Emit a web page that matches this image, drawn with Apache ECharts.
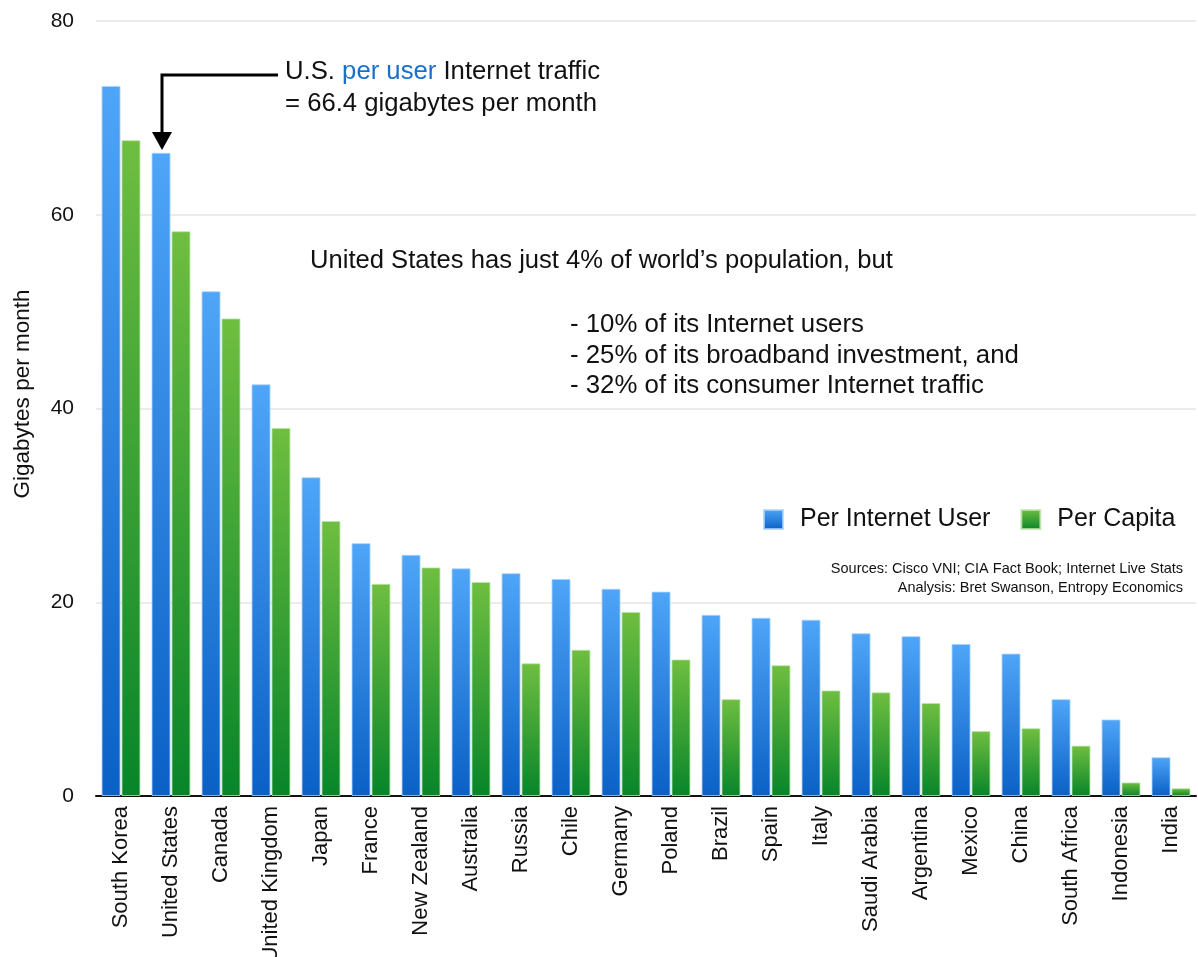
<!DOCTYPE html>
<html>
<head>
<meta charset="utf-8">
<script src="https://cdn.jsdelivr.net/npm/echarts@6/dist/echarts.min.js"></script>
<style>
  html, body { margin: 0; padding: 0; background: #fff; }
  #chart { width: 1198px; height: 957px; }
</style>
</head>
<body>
<div id="chart"></div>
<script>
var countries = ['South Korea', 'United States', 'Canada', 'United Kingdom', 'Japan', 'France',
  'New Zealand', 'Australia', 'Russia', 'Chile', 'Germany', 'Poland', 'Brazil', 'Spain', 'Italy',
  'Saudi Arabia', 'Argentina', 'Mexico', 'China', 'South Africa', 'Indonesia', 'India']
var perUser = [73.3, 66.4, 52.1, 42.5, 32.9, 26.1, 24.9, 23.5, 23.0, 22.4, 21.4, 21.1, 18.7, 18.4,
  18.2, 16.8, 16.5, 15.7, 14.7, 10.0, 7.9, 4.0]
var perCapita = [67.7, 58.3, 49.3, 38.0, 28.4, 21.9, 23.6, 22.1, 13.7, 15.1, 19.0, 14.1, 10.0, 13.5,
  10.9, 10.7, 9.6, 6.7, 7.0, 5.2, 1.4, 0.8]
var yTicks = [0, 20, 40, 60, 80]

var font = '"Liberation Sans", Arial, Helvetica, sans-serif'
var myChart = echarts.init(document.getElementById('chart'))

// 上浅下深的渐变
var blueFill = new echarts.graphic.LinearGradient(0, 0, 0, 1, [
  { offset: 0, color: '#4fa5f7' },
  { offset: 1, color: '#0a60c5' }
])
var greenFill = new echarts.graphic.LinearGradient(0, 0, 0, 1, [
  { offset: 0, color: '#6fbe40' },
  { offset: 1, color: '#07852a' }
])

myChart.setOption({
  animation: false,
  grid: { left: 96, right: 2, top: 21, bottom: 161, outerBoundsMode: 'none', containLabel: false },
  legend: {
    left: 758,
    top: 502,
    icon: 'rect',
    itemWidth: 19,
    itemHeight: 19,
    itemGap: 30,
    textStyle: { fontFamily: font, fontSize: 25, color: '#111', padding: [0, 0, 0, 12] },
    data: ['Per Internet User', 'Per Capita']
  },
  xAxis: {
    type: 'category',
    data: countries,
    axisTick: { show: false },
    axisLine: { lineStyle: { color: '#111', width: 2 } },
    axisLabel: { rotate: 90, margin: 10, fontFamily: font, fontSize: 22, color: '#111', interval: 0 }
  },
  yAxis: {
    type: 'value',
    min: yTicks[0],
    max: yTicks[yTicks.length - 1],
    interval: 20,
    axisLine: { show: false },
    axisTick: { show: false },
    splitLine: { lineStyle: { color: '#e4e4e4', width: 1.5 } },
    axisLabel: { margin: 22, fontFamily: font, fontSize: 21, color: '#111' }
  },
  series: [
    {
      name: 'Per Internet User',
      type: 'bar',
      barWidth: 19,
      barGap: '5%',
      itemStyle: { color: blueFill, borderColor: 'rgba(170,210,255,0.8)', borderWidth: 1 },
      data: perUser
    },
    {
      name: 'Per Capita',
      type: 'bar',
      barWidth: 19,
      barGap: '5%',
      itemStyle: { color: greenFill, borderColor: 'rgba(190,230,170,0.8)', borderWidth: 1 },
      data: perCapita
    }
  ],
  graphic: [
    // Y轴标题
    {
      type: 'text',
      x: 23,
      y: 394,
      rotation: Math.PI / 2,
      style: {
        text: 'Gigabytes per month',
        fontFamily: font, fontSize: 22.5, fill: '#111',
        align: 'center', verticalAlign: 'middle'
      }
    },
    // 箭头
    {
      type: 'polyline',
      shape: { points: [[278, 75], [162, 75], [162, 134]] },
      style: { stroke: '#000', lineWidth: 3, fill: null }
    },
    {
      type: 'polygon',
      shape: { points: [[152, 132], [172, 132], [162, 150]] },
      style: { fill: '#000' }
    },
    {
      type: 'text',
      left: 285,
      top: 59,
      style: {
        text: '{a|U.S. }{b|per user}{a| Internet traffic}\n{a|= 66.4 gigabytes per month}',
        rich: {
          a: { fontFamily: font, fontSize: 25.7, fill: '#111', lineHeight: 32 },
          b: { fontFamily: font, fontSize: 25.7, fill: '#1a6fc9', lineHeight: 32 }
        }
      }
    },
    {
      type: 'text',
      left: 310,
      top: 248,
      style: {
        text: 'United States has just 4% of world\u2019s population, but',
        fontFamily: font, fontSize: 25.6, fill: '#111'
      }
    },
    {
      type: 'text',
      left: 570,
      top: 310,
      style: {
        text: '- 10% of its Internet users\n- 25% of its broadband investment, and\n- 32% of its consumer Internet traffic',
        fontFamily: font, fontSize: 25.8, lineHeight: 30.5, fill: '#111'
      }
    },
    {
      type: 'text',
      right: 15,
      top: 561,
      style: {
        text: 'Sources: Cisco VNI; CIA Fact Book; Internet Live Stats',
        fontFamily: font, fontSize: 14.5, fill: '#111'
      }
    },
    {
      type: 'text',
      right: 15,
      top: 580,
      style: {
        text: 'Analysis: Bret Swanson, Entropy Economics',
        fontFamily: font, fontSize: 14.5, fill: '#111'
      }
    }
  ]
})
</script>
</body>
</html>
